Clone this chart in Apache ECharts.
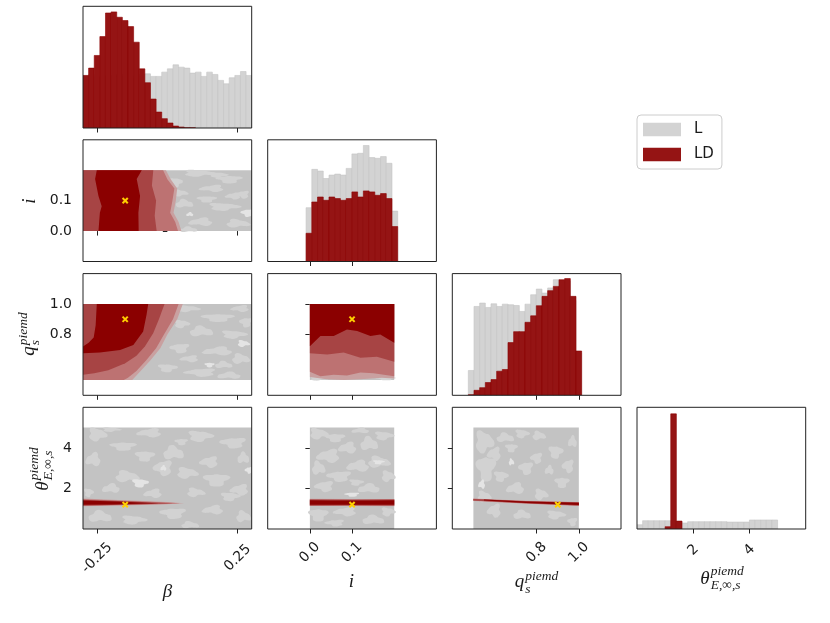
<!DOCTYPE html>
<html><head><meta charset="utf-8">
<script src="https://cdn.jsdelivr.net/npm/echarts@6/dist/echarts.min.js"></script>
<style>html,body{margin:0;padding:0;background:#fff;}#c{width:830px;height:623px;}</style>
</head><body><div id="c"></div>
<script>
// ================= DATA =================
// axis ranges
const betaRange = [-0.3, 0.3];
const iRange = [-0.1, 0.3];
const qRange = [0.4, 1.2];
const thetaRange = [0, 6];

// ticks
const betaTicks = [-0.25, 0.25];
const betaTickLabels = ['-0.25', '0.25'];
const iTicks = [0.0, 0.1];
const iTickLabels = ['0.0', '0.1'];
const qTicks = [0.8, 1.0];
const qTickLabels = ['0.8', '1.0'];
const thetaTicks = [2, 4];
const thetaTickLabels = ['2', '4'];

// 1D histograms (relative heights)
const betaBinStart = -0.3, betaBinWidth = 0.02;
const betaHistL = [0.43,0.44,0.42,0.43,0.41,0.43,0.44,0.42,0.41,0.43,0.44,0.445,0.424,0.424,0.459,0.486,0.519,0.500,0.492,0.451,0.459,0.424,0.459,0.440,0.391,0.363,0.413,0.432,0.464,0.432];
const betaHistLD = [0.432,0.492,0.596,0.751,0.945,0.954,0.910,0.883,0.833,0.705,0.486,0.372,0.238,0.131,0.077,0.041,0.016,0.008,0.003,0.002,0,0,0,0,0,0,0,0,0,0];

const iBinStart = -0.009, iBinWidth = 0.01358;
const iHistL = [0.442,0.757,0.743,0.682,0.710,0.718,0.710,0.765,0.884,0.889,0.953,0.854,0.848,0.862,0.807,0.414];
const iHistLD = [0.232,0.489,0.530,0.503,0.530,0.517,0.503,0.517,0.572,0.530,0.580,0.572,0.544,0.558,0.517,0.287];

const qBinStart = 0.476, qBinWidth = 0.02687;
const qHistL = [0.204,0.730,0.758,0.722,0.752,0.730,0.749,0.744,0.738,0.689,0.749,0.826,0.873,0.840,0.882,0.950,0.93,0.94,0.78,0.35];
const qHistLD = [0.005,0.041,0.063,0.105,0.129,0.198,0.212,0.433,0.523,0.523,0.600,0.653,0.736,0.813,0.860,0.895,0.950,0.959,0.813,0.364];

const thetaBinStart = 0, thetaBinWidth = 0.2;
const thetaHistL = [0.035,0.068,0.068,0.068,0.068,0.068,0.06,0.06,0.049,0.06,0.06,0.06,0.06,0.06,0.06,0.06,0.057,0.057,0.057,0.057,0.074,0.074,0.074,0.074,0.074,0,0,0,0,0];
const thetaHistLD = [0,0,0,0,0,0.019,0.946,0.065,0,0,0,0,0,0,0,0,0,0,0,0,0,0,0,0,0,0,0,0,0,0];

// true values
const truthBeta = -0.15, truthI = 0.1, truthQ = 0.9, truthTheta = 1.2;

// 2D: extent of L samples [xmin, xmax, ymin, ymax]
const lExtentBetaI = [-0.3, 0.3, 0, 0.2];
const lExtentBetaQ = [-0.3, 0.3, 0.5, 1.0];
const lExtentIQ = [0, 0.2, 0.5, 1.0];
const lExtentBetaTheta = [-0.3, 0.3, 0, 5];
const lExtentITheta = [0, 0.2, 0, 5];
const lExtentQTheta = [0.5, 1.0, 0, 5];

// 2D: lighter L contour patches [x, y, rx, ry, level]
const lPatchesBetaI = [[0.11,0.19,0.05,0.01,1],[0.22,0.17,0.04,0.012,1],[0.16,0.14,0.04,0.01,1],[0.06,0.09,0.03,0.012,1],[0.2,0.08,0.05,0.012,1],[0.285,0.06,0.02,0.012,2],[0.12,0.03,0.04,0.012,1],[0.25,0.025,0.04,0.012,1],[0.03,0.16,0.02,0.015,1],[0.27,0.12,0.02,0.012,1],[0.08,0.055,0.012,0.006,2],[0.045,0.125,0.025,0.01,1],[0.14,0.105,0.03,0.01,1],[0.235,0.115,0.025,0.01,1],[0.075,0.005,0.03,0.008,1],[0.18,0.185,0.03,0.008,1]];
const lPatchesBetaQ = [[0.07,0.97,0.04,0.02,1],[0.18,0.91,0.05,0.025,1],[0.26,0.97,0.03,0.02,1],[0.12,0.82,0.04,0.03,1],[0.235,0.80,0.04,0.025,1],[0.045,0.71,0.03,0.03,1],[0.18,0.69,0.05,0.025,1],[0.26,0.64,0.03,0.03,1],[0.0,0.58,0.03,0.025,1],[0.12,0.55,0.05,0.025,1],[0.22,0.53,0.04,0.02,1],[0.27,0.74,0.02,0.02,2],[0.15,0.6,0.015,0.015,2],[0.08,0.64,0.03,0.02,1],[0.2,0.6,0.03,0.02,1],[0.05,0.87,0.025,0.025,1],[0.28,0.88,0.02,0.03,1]];
const lPatchesIQ = [[0.02,0.51,0.02,0.012,1],[0.18,0.51,0.02,0.01,1]];
const lPatchesBetaTheta = [[-0.25,4.66,0.03,0.3,1],[-0.157,4.08,0.04,0.2,1],[-0.062,4.74,0.04,0.2,1],[0.021,3.75,0.035,0.3,1],[0.116,4.58,0.04,0.25,1],[0.235,4.25,0.04,0.25,1],[-0.263,3.42,0.025,0.3,1],[-0.145,2.59,0.04,0.25,1],[-0.097,2.27,0.025,0.2,2],[-0.014,3.01,0.03,0.35,1],[-0.014,3.0,0.01,0.12,2],[0.069,2.76,0.035,0.25,1],[0.175,2.43,0.04,0.3,1],[0.258,1.93,0.03,0.25,1],[-0.24,0.61,0.04,0.25,1],[-0.121,0.45,0.04,0.2,1],[0.021,0.78,0.04,0.25,1],[0.163,0.94,0.035,0.2,1],[0.27,0.61,0.025,0.25,1],[0.223,1.6,0.03,0.2,1],[0.29,2.9,0.012,0.15,2],[-0.2,2.0,0.03,0.2,1],[0.1,1.8,0.03,0.2,1],[-0.08,3.6,0.03,0.25,1],[0.15,3.3,0.03,0.25,1],[0.27,3.5,0.02,0.25,1],[-0.2,4.9,0.03,0.1,1],[0.05,4.3,0.02,0.15,1],[-0.05,1.75,0.03,0.2,1],[0.08,0.2,0.03,0.15,1],[-0.28,1.8,0.015,0.2,1]];
const lPatchesITheta = [[0.02,4.7,0.02,0.25,1],[0.06,4.5,0.02,0.2,1],[0.045,3.6,0.025,0.3,1],[0.14,4.2,0.02,0.3,1],[0.175,4.6,0.02,0.2,1],[0.07,2.6,0.025,0.25,1],[0.115,3.1,0.025,0.25,1],[0.163,3.3,0.025,0.25,1],[0.163,3.3,0.012,0.1,2],[0.035,2.1,0.02,0.25,1],[0.14,2.0,0.025,0.2,1],[0.185,2.6,0.015,0.25,1],[0.02,0.7,0.02,0.3,1],[0.085,0.85,0.025,0.2,1],[0.15,0.45,0.025,0.2,1],[0.185,0.85,0.015,0.2,1],[0.1,1.7,0.015,0.1,2],[0.09,4.0,0.02,0.25,1],[0.02,3.0,0.015,0.3,1],[0.11,2.3,0.015,0.15,1],[0.06,0.3,0.02,0.15,1],[0.12,4.85,0.02,0.12,1]];
const lPatchesQTheta = [[0.55,4.3,0.04,0.5,1],[0.56,3.0,0.04,0.6,1],[0.6,3.7,0.03,0.3,1],[0.65,4.5,0.04,0.2,1],[0.73,4.7,0.03,0.2,1],[0.75,3.0,0.03,0.3,1],[0.7,2.0,0.04,0.25,1],[0.81,4.6,0.03,0.2,1],[0.89,3.8,0.03,0.3,1],[0.95,3.1,0.025,0.3,1],[0.97,4.3,0.02,0.25,1],[0.82,1.7,0.03,0.25,1],[0.92,2.3,0.03,0.25,1],[0.6,0.9,0.03,0.3,1],[0.73,0.7,0.04,0.2,1],[0.89,0.7,0.04,0.2,1],[0.97,0.36,0.02,0.2,1],[0.54,2.2,0.015,0.2,2],[0.68,3.3,0.012,0.15,2],[0.63,2.6,0.03,0.25,1],[0.8,3.5,0.025,0.25,1],[0.86,2.9,0.02,0.2,1],[0.55,1.6,0.03,0.25,1],[0.68,4.0,0.025,0.2,1]];

// 2D: LD contour levels (outer -> inner), each a polygon in data coords
const ldLevelsBetaI = [
  [[-0.3,0.2],[-0.005,0.2],[0.012,0.17],[0.035,0.14],[0.03,0.1],[0.022,0.06],[0.04,0.03],[0.05,0],[-0.3,0]],
  [[-0.3,0.2],[-0.015,0.2],[0.0,0.17],[0.025,0.14],[0.018,0.1],[0.01,0.06],[0.028,0.03],[0.038,0],[-0.3,0]],
  [[-0.3,0.2],[-0.05,0.2],[-0.055,0.15],[-0.04,0.1],[-0.045,0.05],[-0.038,0],[-0.3,0]],
  [[-0.251,0.2],[-0.091,0.2],[-0.109,0.171],[-0.097,0.115],[-0.103,0.06],[-0.102,0],[-0.245,0],[-0.24,0.06],[-0.2335,0.082],[-0.245,0.115],[-0.257,0.171]]
];
const ldLevelsBetaQ = [
  [[-0.3,1.0],[0.055,1.0],[0.035,0.9],[0.0,0.8],[-0.025,0.71],[-0.06,0.63],[-0.095,0.56],[-0.125,0.5],[-0.3,0.5]],
  [[-0.3,1.0],[0.04,1.0],[0.02,0.9],[-0.012,0.8],[-0.04,0.71],[-0.075,0.63],[-0.11,0.56],[-0.14,0.515],[-0.155,0.5],[-0.3,0.5]],
  [[-0.3,1.0],[-0.01,1.0],[-0.03,0.9],[-0.05,0.81],[-0.08,0.72],[-0.11,0.66],[-0.15,0.61],[-0.21,0.565],[-0.26,0.545],[-0.3,0.535]],
  [[-0.251,1.0],[-0.068,1.0],[-0.074,0.93],[-0.086,0.82],[-0.121,0.731],[-0.168,0.698],[-0.24,0.682],[-0.3,0.676],[-0.3,0.72],[-0.28,0.745],[-0.262,0.78],[-0.255,0.86]]
];
const ldLevelsIQ = [
  [[0,1],[0.2,1],[0.2,0.51],[0.17,0.515],[0.12,0.505],[0.08,0.5],[0.04,0.505],[0.0,0.52]],
  [[0,1],[0.2,1],[0.2,0.525],[0.151,0.545],[0.12,0.55],[0.088,0.53],[0.0565,0.535],[0.025,0.525],[0,0.555]],
  [[0,1],[0.2,1],[0.2,0.62],[0.159,0.653],[0.12,0.647],[0.08,0.682],[0.041,0.669],[0,0.676]],
  [[0,1.0],[0.2,1.0],[0.2,0.745],[0.167,0.8],[0.1435,0.789],[0.112,0.822],[0.088,0.833],[0.0565,0.789],[0.025,0.789],[0,0.723]]
];
const ldLevelsBetaTheta = [
  [[-0.3,1.5],[-0.15,1.42],[0.0,1.33],[0.06,1.27],[0.0,1.22],[-0.15,1.16],[-0.3,1.12]],
  [[-0.3,1.47],[-0.15,1.39],[0.0,1.31],[0.045,1.27],[0.0,1.23],[-0.15,1.18],[-0.3,1.14]],
  [[-0.3,1.44],[-0.15,1.37],[-0.03,1.29],[0.02,1.27],[-0.03,1.24],[-0.15,1.2],[-0.3,1.16]],
  [[-0.3,1.41],[-0.18,1.35],[-0.08,1.29],[-0.03,1.27],[-0.1,1.24],[-0.2,1.21],[-0.3,1.19]]
];
const ldLevelsITheta = [
  [[0,1.49],[0.1,1.48],[0.2,1.48],[0.2,1.12],[0.1,1.13],[0,1.13]],
  [[0,1.47],[0.1,1.46],[0.2,1.47],[0.2,1.14],[0.1,1.15],[0,1.14]],
  [[0,1.45],[0.1,1.44],[0.2,1.45],[0.2,1.16],[0.1,1.17],[0,1.16]],
  [[0,1.42],[0.05,1.41],[0.1,1.4],[0.15,1.41],[0.2,1.42],[0.2,1.19],[0.15,1.2],[0.1,1.19],[0.05,1.2],[0,1.19]]
];
const ldLevelsQTheta = [
  [[0.5,1.50],[0.75,1.39],[1.0,1.33],[1.0,1.14],[0.75,1.25],[0.5,1.38]],
  [[0.5,1.49],[0.75,1.38],[1.0,1.32],[1.0,1.15],[0.75,1.26],[0.5,1.39]],
  [[0.5,1.48],[0.75,1.37],[1.0,1.31],[1.0,1.16],[0.75,1.27],[0.5,1.40]],
  [[0.55,1.45],[0.75,1.355],[1.0,1.29],[1.0,1.18],[0.75,1.285],[0.55,1.41]]
];

// axis titles
const labelBeta = {base: 'β'};
const labelI = {base: 'i'};
const labelQ = {base: 'q', sup: 'piemd', sub: 's'};
const labelTheta = {base: 'θ', sup: 'piemd', sub: 'E,∞,s'};
const seriesNames = ['L', 'LD'];

// ================= LAYOUT / STYLE =================
const PANEL_LEFT = [83, 267.7, 452.3, 637];
const PANEL_TOP = [6.3, 139.8, 273.6, 407.3];
const PANEL_W = 168.7, PANEL_H = 121.7;
const X_LABEL_MARGIN = [29, 23.5, 23.5, 21];
const COLOR_L = '#d3d3d3', COLOR_L_EDGE = '#c5c5c5';
const COLOR_LD = '#951414', COLOR_LD_EDGE = '#8b0000';
const GREY_BASE = '#c3c3c3', GREY_L1 = '#d2d2d2', GREY_L2 = '#e4e4e4';
const LD_LEVEL_COLORS = ['#c9a0a0', '#bd7272', '#a74444', '#8b0000'];
const INK = '#1a1a1a';
const BOTTOM_LABEL_POS = [[167.5, 592.3], [351.5, 582.3], [536.5, 582.3], [722, 579.3]];
const LEFT_LABEL_POS = [null, [30, 201], [29, 334], [42.5, 469]];
const SCRIPT_DY = {q: [-5.8, 6.7], theta: [-7.8, 5.7]};

const VARS = [
  {key:'beta', range: betaRange, ticks: betaTicks, tickLabels: betaTickLabels, binStart: betaBinStart, binWidth: betaBinWidth, histL: betaHistL, histLD: betaHistLD, truth: truthBeta, label: labelBeta},
  {key:'i', range: iRange, ticks: iTicks, tickLabels: iTickLabels, binStart: iBinStart, binWidth: iBinWidth, histL: iHistL, histLD: iHistLD, truth: truthI, label: labelI},
  {key:'q', range: qRange, ticks: qTicks, tickLabels: qTickLabels, binStart: qBinStart, binWidth: qBinWidth, histL: qHistL, histLD: qHistLD, truth: truthQ, label: labelQ},
  {key:'theta', range: thetaRange, ticks: thetaTicks, tickLabels: thetaTickLabels, binStart: thetaBinStart, binWidth: thetaBinWidth, histL: thetaHistL, histLD: thetaHistLD, truth: truthTheta, label: labelTheta}
];
const PAIRS = {
  '1,0': {ext: lExtentBetaI, patches: lPatchesBetaI, levels: ldLevelsBetaI},
  '2,0': {ext: lExtentBetaQ, patches: lPatchesBetaQ, levels: ldLevelsBetaQ},
  '2,1': {ext: lExtentIQ, patches: lPatchesIQ, levels: ldLevelsIQ},
  '3,0': {ext: lExtentBetaTheta, patches: lPatchesBetaTheta, levels: ldLevelsBetaTheta},
  '3,1': {ext: lExtentITheta, patches: lPatchesITheta, levels: ldLevelsITheta},
  '3,2': {ext: lExtentQTheta, patches: lPatchesQTheta, levels: ldLevelsQTheta}
};

// ================= BUILD =================
function fmtTick(v, ticks, labels) {
  const k = ticks.findIndex(t => Math.abs(t - v) < 1e-9);
  return k >= 0 ? labels[k] : '';
}

const grids = [], xAxes = [], yAxes = [], series = [];
let g = 0;
for (let r = 0; r < 4; r++) {
  for (let c = 0; c <= r; c++) {
    const vx = VARS[c];
    grids.push({left: PANEL_LEFT[c], top: PANEL_TOP[r], width: PANEL_W, height: PANEL_H,
      show: true, borderColor: '#222', borderWidth: 1, backgroundColor: 'transparent', z: 10,
      containLabel: false, outerBoundsMode: 'none'});
    xAxes.push({type: 'value', gridIndex: g, min: vx.range[0], max: vx.range[1], position: 'bottom',
      axisLine: {show: false}, splitLine: {show: false},
      axisTick: {show: true, length: 4.5, lineStyle: {color: '#222', width: 1}, customValues: vx.ticks},
      axisLabel: {show: r === 3, customValues: vx.ticks, formatter: (v) => fmtTick(v, vx.ticks, vx.tickLabels),
        rotate: 45, align: 'center', verticalAlign: 'middle', margin: X_LABEL_MARGIN[c],
        fontFamily: 'DejaVu Sans', fontSize: 14, color: INK}
    });
    if (r === c) {
      yAxes.push({type: 'value', gridIndex: g, min: 0, max: 1, show: false});
      const gi = g;
      [[vx.histL, COLOR_L, COLOR_L_EDGE, seriesNames[0], 2], [vx.histLD, COLOR_LD, COLOR_LD_EDGE, seriesNames[1], 3]].forEach(([h, fill, edge, name, z]) => {
        series.push({type: 'custom', name: name, xAxisIndex: gi, yAxisIndex: gi, z: z, silent: true, clip: true,
          itemStyle: {color: fill},
          data: h.map((hv, k) => [vx.binStart + k * vx.binWidth, vx.binStart + (k + 1) * vx.binWidth, 0, hv]),
          renderItem: function (params, api) {
            if (api.value(3) <= 0) return null;
            const p0 = api.coord([api.value(0), api.value(2)]);
            const p1 = api.coord([api.value(1), api.value(3)]);
            return {type: 'rect', shape: {x: p0[0], y: p1[1], width: p1[0] - p0[0], height: p0[1] - p1[1]},
              style: {fill: fill, stroke: edge, lineWidth: 0.6}};
          }
        });
      });
    } else {
      const vy = VARS[r];
      yAxes.push({type: 'value', gridIndex: g, min: vy.range[0], max: vy.range[1], position: 'left',
        axisLine: {show: false}, splitLine: {show: false},
        axisTick: {show: true, length: 4.5, lineStyle: {color: '#222', width: 1}, customValues: vy.ticks},
        axisLabel: {show: c === 0, customValues: vy.ticks, formatter: (v) => fmtTick(v, vy.ticks, vy.tickLabels),
          margin: 11, fontFamily: 'DejaVu Sans', fontSize: 14, color: INK}
      });
      const pair = PAIRS[r + ',' + c];
      const gi = g;
      // L base region
      series.push({type: 'custom', xAxisIndex: gi, yAxisIndex: gi, z: 2, silent: true, clip: true,
        data: [pair.ext],
        renderItem: function (params, api) {
          const p0 = api.coord([api.value(0), api.value(2)]);
          const p1 = api.coord([api.value(1), api.value(3)]);
          return {type: 'rect', shape: {x: p0[0], y: p1[1], width: p1[0] - p0[0], height: p0[1] - p1[1]}, style: {fill: GREY_BASE}};
        }
      });
      // L lighter contour patches (irregular blobs)
      series.push({type: 'custom', xAxisIndex: gi, yAxisIndex: gi, z: 3, silent: true, clip: true,
        data: pair.patches,
        renderItem: function (params, api) {
          const cx = api.value(0), cy = api.value(1), rx = api.value(2), ry = api.value(3), lv = api.value(4);
          const c0 = api.coord([cx, cy]);
          const c1 = api.coord([cx + rx, cy + ry]);
          const prx = Math.abs(c1[0] - c0[0]), pry = Math.abs(c1[1] - c0[1]);
          const ph = params.dataIndex * 1.7;
          const pts = [];
          for (let k = 0; k < 20; k++) {
            const a = k / 20 * 2 * Math.PI;
            const m = 1 + 0.22 * Math.cos(3 * a + ph) + 0.12 * Math.sin(5 * a + 2 * ph);
            pts.push([c0[0] + prx * m * Math.cos(a), c0[1] + pry * m * Math.sin(a)]);
          }
          return {type: 'polygon', z2: lv, shape: {points: pts, smooth: 0.4}, style: {fill: lv === 2 ? GREY_L2 : GREY_L1}};
        }
      });
      // LD contour levels
      series.push({type: 'custom', xAxisIndex: gi, yAxisIndex: gi, z: 4, silent: true, clip: true,
        data: pair.levels.map((poly, k) => [poly[0][0], poly[0][1], k]),
        renderItem: function (params, api) {
          const k = api.value(2);
          const pts = pair.levels[k].map(p => api.coord(p));
          return {type: 'polygon', z2: k, shape: {points: pts}, style: {fill: LD_LEVEL_COLORS[k]}};
        }
      });
      // truth marker
      series.push({type: 'custom', xAxisIndex: gi, yAxisIndex: gi, z: 6, silent: true, clip: false,
        data: [[vx.truth, vy.truth]],
        renderItem: function (params, api) {
          const p = api.coord([api.value(0), api.value(1)]);
          const d = 2.6;
          const st = {stroke: '#ffd000', lineWidth: 2};
          return {type: 'group', children: [
            {type: 'line', shape: {x1: p[0] - d, y1: p[1] - d, x2: p[0] + d, y2: p[1] + d}, style: st},
            {type: 'line', shape: {x1: p[0] - d, y1: p[1] + d, x2: p[0] + d, y2: p[1] - d}, style: st}
          ]};
        }
      });
    }
    g++;
  }
}

// math-like axis titles
const mctx = document.createElement('canvas').getContext('2d');
function textW(t, font) { mctx.font = font; return mctx.measureText(t).width; }
function mathLabel(spec, key, pos, rotated) {
  const F = 19, S = 13.5;
  const fam = '"Liberation Serif", "DejaVu Serif", serif';
  const bf = 'italic ' + F + 'px ' + fam, sf = 'italic ' + S + 'px ' + fam;
  const bw = textW(spec.base, bf);
  const supw = spec.sup ? textW(spec.sup, sf) : 0;
  const subw = spec.sub ? textW(spec.sub, sf) : 0;
  const W = bw + ((spec.sup || spec.sub) ? 1 + Math.max(supw, subw) : 0);
  const x0 = -W / 2;
  const dy = SCRIPT_DY[key] || [-6, 6];
  const mk = (t, x, y, size) => ({type: 'text', x: x, y: y, silent: true,
    style: {text: t, fontFamily: fam, fontStyle: 'italic', fontSize: size, font: 'italic ' + size + 'px ' + fam,
      fill: INK, align: 'left', verticalAlign: 'middle', textAlign: 'left', textVerticalAlign: 'middle'}});
  const children = [mk(spec.base, x0, 0, F)];
  if (spec.sup) children.push(mk(spec.sup, x0 + bw + 1, dy[0], S));
  if (spec.sub) children.push(mk(spec.sub, x0 + bw + 1, dy[1], S));
  return {type: 'group', x: pos[0], y: pos[1], rotation: rotated ? Math.PI / 2 : 0, silent: true, children: children};
}
const graphics = [];
VARS.forEach((v, k) => {
  graphics.push(mathLabel(v.label, v.key, BOTTOM_LABEL_POS[k], false));
  if (LEFT_LABEL_POS[k]) graphics.push(mathLabel(v.label, v.key, LEFT_LABEL_POS[k], true));
});

const option = {
  animation: false,
  backgroundColor: '#ffffff',
  grid: grids,
  xAxis: xAxes,
  yAxis: yAxes,
  series: series,
  graphic: graphics,
  legend: {
    data: [
      {name: seriesNames[0], icon: 'rect', itemStyle: {color: COLOR_L}},
      {name: seriesNames[1], icon: 'rect', itemStyle: {color: COLOR_LD}}
    ],
    orient: 'vertical', left: 637, top: 115, itemWidth: 38, itemHeight: 13.5, itemGap: 10,
    padding: [7, 8, 7, 6], borderColor: '#cccccc', borderWidth: 1, borderRadius: 4,
    backgroundColor: 'rgba(255,255,255,0.8)', selectedMode: false,
    textStyle: {fontFamily: 'DejaVu Sans', fontSize: 15, color: INK, padding: [0, 0, 0, 8]}
  }
};
const chart = echarts.init(document.getElementById('c'), null, {renderer: 'canvas'});
chart.setOption(option);
</script></body></html>
